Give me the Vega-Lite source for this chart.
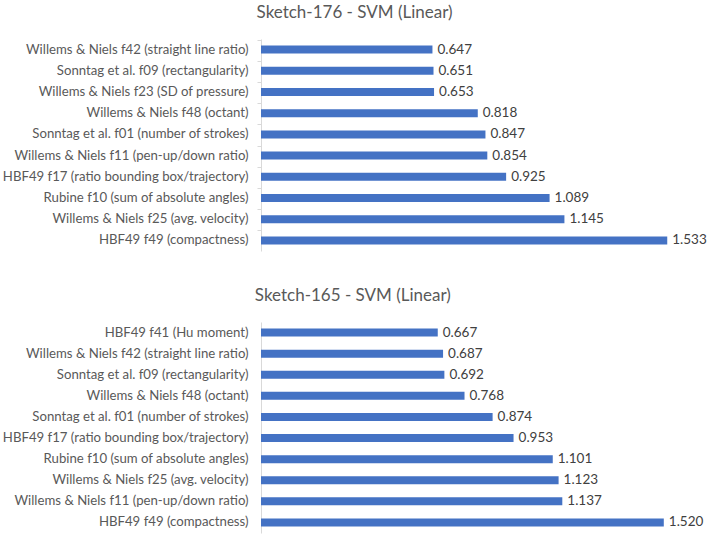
{
  "$schema": "https://vega.github.io/schema/vega-lite/v6.json",
  "padding": {"left": 2, "top": 4, "right": 0, "bottom": 2},
  "background": "white",
  "config": {
    "view": {"stroke": null},
    "font": "Lato",
    "title": {"font": "Lato", "fontSize": 17, "fontWeight": "normal", "color": "#595959", "frame": "bounds", "anchor": "middle", "offset": 17},
    "axis": {"labelFont": "Lato", "labelFontSize": 13.2, "labelColor": "#595959", "domainColor": "#d9d9d9", "tickColor": "#d9d9d9"}
  },
  "spacing": 36,
  "datasets": {
    "s176": [
      {"feature": "Willems & Niels f42 (straight line ratio)", "value": 0.647},
      {"feature": "Sonntag et al. f09 (rectangularity)", "value": 0.651},
      {"feature": "Willems & Niels f23 (SD of pressure)", "value": 0.653},
      {"feature": "Willems & Niels f48 (octant)", "value": 0.818},
      {"feature": "Sonntag et al. f01 (number of strokes)", "value": 0.847},
      {"feature": "Willems & Niels f11 (pen-up/down ratio)", "value": 0.854},
      {"feature": "HBF49 f17 (ratio bounding box/trajectory)", "value": 0.925},
      {"feature": "Rubine f10 (sum of absolute angles)", "value": 1.089},
      {"feature": "Willems & Niels f25 (avg. velocity)", "value": 1.145},
      {"feature": "HBF49 f49 (compactness)", "value": 1.533}
    ],
    "s165": [
      {"feature": "HBF49 f41 (Hu moment)", "value": 0.667},
      {"feature": "Willems & Niels f42 (straight line ratio)", "value": 0.687},
      {"feature": "Sonntag et al. f09 (rectangularity)", "value": 0.692},
      {"feature": "Willems & Niels f48 (octant)", "value": 0.768},
      {"feature": "Sonntag et al. f01 (number of strokes)", "value": 0.874},
      {"feature": "HBF49 f17 (ratio bounding box/trajectory)", "value": 0.953},
      {"feature": "Rubine f10 (sum of absolute angles)", "value": 1.101},
      {"feature": "Willems & Niels f25 (avg. velocity)", "value": 1.123},
      {"feature": "Willems & Niels f11 (pen-up/down ratio)", "value": 1.137},
      {"feature": "HBF49 f49 (compactness)", "value": 1.520}
    ]
  },
  "vconcat": [
    {
      "title": "Sketch-176 - SVM (Linear)",
      "data": {"name": "s176"},
      "width": 424,
      "height": 212,
      "encoding": {
        "y": {"field": "feature", "type": "nominal", "sort": null, "title": null,
              "axis": {"labelLimit": 400, "labelPadding": 9, "ticks": true, "tickSize": 4, "bandPosition": 0}},
        "x": {"field": "value", "type": "quantitative", "scale": {"domain": [0, 1.6], "nice": false}, "axis": null}
      },
      "layer": [
        {"mark": {"type": "bar", "color": "#4472C4", "height": 8}},
        {"mark": {"type": "text", "align": "left", "dx": 5, "fontSize": 13.5, "color": "#404040", "font": "Lato"},
         "encoding": {"text": {"field": "value", "type": "quantitative", "format": ".3f"}}}
      ]
    },
    {
      "title": "Sketch-165 - SVM (Linear)",
      "data": {"name": "s165"},
      "width": 424,
      "height": 211,
      "encoding": {
        "y": {"field": "feature", "type": "nominal", "sort": null, "title": null,
              "axis": {"labelLimit": 400, "labelPadding": 13, "ticks": false}},
        "x": {"field": "value", "type": "quantitative", "scale": {"domain": [0, 1.6], "nice": false}, "axis": null}
      },
      "layer": [
        {"mark": {"type": "bar", "color": "#4472C4", "height": 8}},
        {"mark": {"type": "text", "align": "left", "dx": 5, "fontSize": 13.5, "color": "#404040", "font": "Lato"},
         "encoding": {"text": {"field": "value", "type": "quantitative", "format": ".3f"}}}
      ]
    }
  ]
}
